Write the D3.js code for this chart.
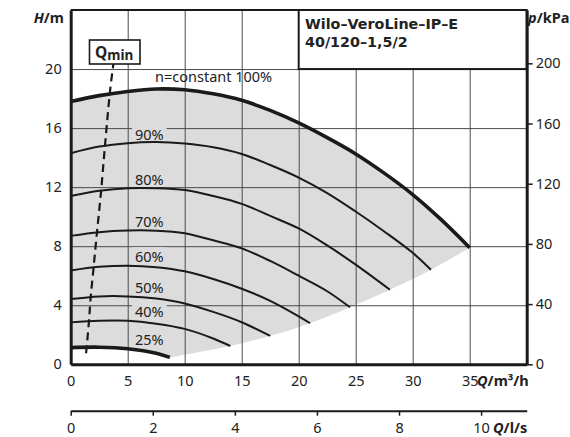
<!DOCTYPE html>
<meta charset="utf-8">
<style>
body { margin: 0; background: #fff; }
svg text { font-family: "Noto Sans", sans-serif; fill: #222; }
.grid line { stroke: #4a4a4a; stroke-width: 1; }
.grid path { display: none; }
.curve { fill: none; stroke: #1a1a1a; stroke-width: 2; }
.curve.thick { stroke-width: 3.6; }
.lbl { font-size: 14.5px; }
.unit { font-size: 14.5px; font-weight: bold; }
.title { font-family: "DejaVu Sans", sans-serif !important; font-size: 14.3px; font-weight: bold; }
</style>
<svg width="570" height="437"></svg>
<script src="https://d3js.org/d3.v7.min.js"></script>
<script>
// speed curves, H in m over Q in m3/h
var speeds = ["100%", "90%", "80%", "70%", "60%", "50%", "40%", "25%"];
var h100 = [[0,17.8],[2.5,18.2],[5,18.48],[7.5,18.65],[10,18.6],[12.5,18.32],[15,17.88],[17.5,17.2],[20,16.35],[22.5,15.35],[25,14.25],[27.5,12.95],[30,11.5],[32.5,9.8],[35,7.9]];
var h90 = [[0,14.3],[2.5,14.75],[5,14.98],[7.5,15.05],[10,14.95],[12.5,14.7],[15,14.25],[17.5,13.5],[20,12.65],[22.5,11.6],[25,10.35],[27.5,9.0],[30,7.55],[31.6,6.4]];
var h80 = [[0,11.4],[2.5,11.75],[5,11.93],[7.5,11.93],[10,11.8],[12.5,11.4],[15,10.87],[17.5,10.05],[20,9.2],[22.5,8.05],[25,6.75],[28,5.05]];
var h70 = [[0,8.7],[2.5,8.95],[5,9.06],[7.5,9.05],[10,8.88],[12.5,8.4],[15,7.85],[17.5,7.0],[20,6.0],[22.5,4.95],[24.5,3.86]];
var h60 = [[0,6.35],[2.5,6.6],[5,6.68],[7.5,6.58],[10,6.3],[12.5,5.78],[15,5.12],[17.5,4.3],[20,3.25],[21,2.78]];
var h50 = [[0,4.42],[2.5,4.6],[5,4.6],[7.5,4.45],[10,4.12],[12.5,3.55],[15,2.85],[17.5,1.92]];
var h40 = [[0,2.84],[2.5,2.95],[5,2.95],[7.5,2.75],[10,2.4],[12.5,1.75],[14,1.24]];
var h25 = [[0,1.13],[2.5,1.16],[5,1.05],[7.5,0.75],[8.7,0.47]];
var qmin = [[1.35,0.75],[1.6,2.9],[1.75,4.5],[2.0,6.5],[2.3,8.9],[2.65,11.6],[3.0,14.75],[3.45,18.5],[3.75,20.38]];

var hTicks = [0, 4, 8, 12, 16, 20];
var qTicks = [0, 5, 10, 15, 20, 25, 30, 35];
var pTicks = [0, 40, 80, 120, 160, 200];
var lsTicks = [0, 2, 4, 6, 8, 10];

var curves = [h100, h90, h80, h70, h60, h50, h40, h25];

var svg = d3.select("svg");
var x = d3.scaleLinear().domain([0, 40]).range([70.7, 526.7]);
var y = d3.scaleLinear().domain([0, 24]).range([364.3, 10]);
var yp = d3.scaleLinear().domain([0, 24 * 9.81]).range([364.3, 10]);
var xls = d3.scaleLinear().domain([0, 40 / 3.6]).range([70.7, 526.7]);

var line = d3.line().x(d => x(d[0])).y(d => y(d[1])).curve(d3.curveCatmullRom.alpha(0.5));

// shaded operating field: 100% curve, then the end points of all curves, then 25% back
var ends = curves.map(c => c[c.length - 1]);
var area = line(h100) + "L" + line(ends).slice(1)
  + "L" + line(h25.slice().reverse()).slice(1)
  + "L" + x(0) + "," + y(h25[0][1]) + "Z";
svg.append("path").attr("d", area).attr("fill", "#dcdcdd");

// grid
svg.append("g").attr("class", "grid")
  .attr("transform", "translate(0," + y(0) + ")")
  .call(d3.axisBottom(x).tickValues(qTicks.slice(1)).tickSize(-(y(0) - y(24))).tickFormat(""));
svg.append("g").attr("class", "grid")
  .attr("transform", "translate(" + x(0) + ",0)")
  .call(d3.axisLeft(y).tickValues(hTicks.slice(1)).tickSize(-(x(40) - x(0))).tickFormat(""));

// title box
svg.append("rect").attr("x", x(20)).attr("y", y(24)).attr("width", x(40) - x(20)).attr("height", y(20) - y(24))
  .attr("fill", "#fff").attr("stroke", "#1a1a1a").attr("stroke-width", 2);
svg.append("text").attr("class", "title").attr("x", 305).attr("y", 29).text("Wilo–VeroLine–IP–E");
svg.append("text").attr("class", "title").attr("x", 305).attr("y", 47).text("40/120–1,5/2");

// speed labels with a patch of the field colour behind them
speeds.forEach(function(s, i) {
  var c = curves[i];
  var t;
  if (i == 0) {
    t = svg.append("text").attr("class", "lbl").attr("x", 155).attr("y", 82).text("n=constant " + s);
  } else {
    var yy = y(c[2][1]) - 3.5;
    t = svg.append("text").attr("class", "lbl").attr("x", 135).attr("y", yy).text(s);
    var b = t.node().getBBox();
    svg.insert("rect", "text.lbl").attr("x", b.x - 3).attr("y", b.y + 1).attr("width", b.width + 6).attr("height", b.height - 3)
      .attr("fill", "#dcdcdd");
  }
});

// curves
curves.forEach(function(c, i) {
  svg.append("path").attr("class", "curve" + (i == 0 || i == 7 ? " thick" : "")).attr("d", line(c));
});

// Qmin
var lineQ = d3.line().x(d => x(d[0])).y(d => y(d[1])).curve(d3.curveCatmullRom.alpha(0.5));
svg.append("path").attr("d", lineQ(qmin)).attr("fill", "none").attr("stroke", "#1a1a1a")
  .attr("stroke-width", 2.2).attr("stroke-dasharray", "8,5");
svg.append("rect").attr("x", 89.5).attr("y", 40).attr("width", 50.5).attr("height", 24)
  .attr("fill", "#fff").attr("stroke", "#1a1a1a").attr("stroke-width", 1.6);
var qm = svg.append("text").attr("x", 95).attr("y", 58).attr("font-size", 15.5).attr("font-weight", "bold");
qm.append("tspan").text("Q");
qm.append("tspan").attr("font-size", 13.5).attr("dy", 2).text("min");

// frame
svg.append("line").attr("x1", x(0)).attr("x2", x(40)).attr("y1", y(24)).attr("y2", y(24))
  .attr("stroke", "#1a1a1a").attr("stroke-width", 2);

// axes
var gl = svg.append("g").attr("transform", "translate(" + x(0) + ",0)")
  .call(d3.axisLeft(y).tickValues(hTicks).tickSize(0).tickPadding(9));
var gb = svg.append("g").attr("transform", "translate(0," + y(0) + ")")
  .call(d3.axisBottom(x).tickValues(qTicks).tickSize(0).tickPadding(11));
var gr = svg.append("g").attr("transform", "translate(" + x(40) + ",0)")
  .call(d3.axisRight(yp).tickValues(pTicks).tickSize(6).tickPadding(3).tickSizeOuter(0));
var gs = svg.append("g").attr("transform", "translate(0,410.7)")
  .call(d3.axisBottom(xls).tickValues(lsTicks).tickSize(5).tickPadding(7).tickSizeOuter(0));
[gl, gb, gr].forEach(function(g) {
  g.select(".domain").attr("stroke", "#1a1a1a").attr("stroke-width", 3);
  g.selectAll(".tick line").attr("stroke", "#1a1a1a").attr("stroke-width", 1.5);
});
gs.select(".domain").attr("stroke", "#1a1a1a").attr("stroke-width", 2);
gs.selectAll(".tick line").attr("stroke", "#1a1a1a").attr("stroke-width", 1.5);
svg.selectAll(".tick text").attr("fill", "#222").attr("font-family", "Noto Sans").attr("font-size", 14.5);

// unit labels
function unit(tx, ty, sym, rest, anchor) {
  var t = svg.append("text").attr("class", "unit").attr("x", tx).attr("y", ty).attr("text-anchor", anchor || "start");
  t.append("tspan").attr("font-style", "italic").text(sym);
  t.append("tspan").text(rest);
}
unit(64, 23, "H", "/m", "end");
unit(528, 23, "p", "/kPa");
unit(477, 386, "Q", "/m³/h");
unit(493, 433, "Q", "/l/s");
</script>
